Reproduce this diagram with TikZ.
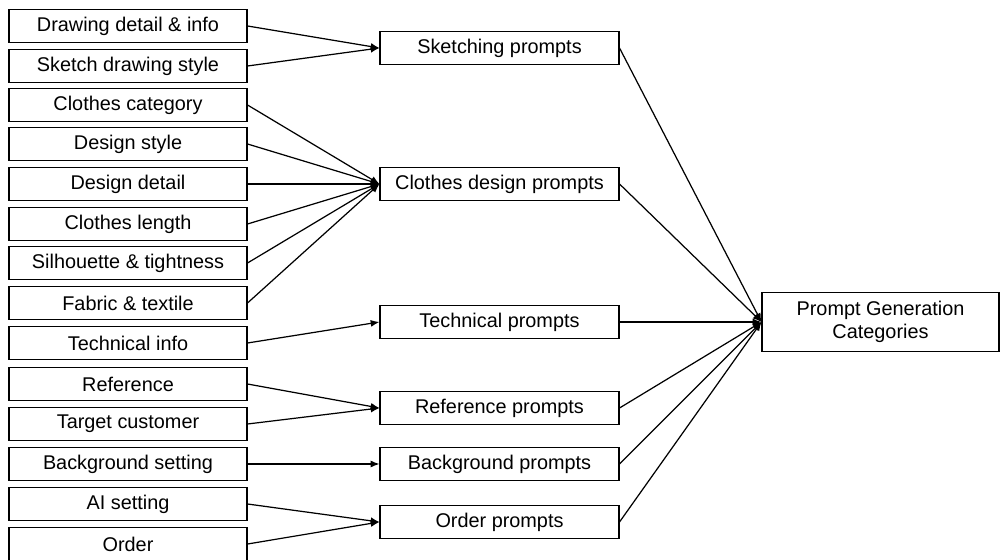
\documentclass[tikz,border=0pt]{standalone}
\usepackage{fontspec}
\setmainfont{Liberation Sans}
\usetikzlibrary{arrows.meta,
    positioning}

\tikzset{
    item/.style={draw, line width=0.6pt, minimum width=4.76cm, minimum height=0.66cm,
        inner sep=0pt, font=\fontsize{11.3}{13.5}\selectfont},
    group/.style={item, minimum width=4.78cm},
    goal/.style={item, minimum width=4.74cm, minimum height=1.18cm, align=center},
    link/.style={line width=0.7pt, -{Latex[length=5pt,width=4pt]}}
}

\begin{document}
\begin{tikzpicture}
                  \useasboundingbox (0,0) rectangle (20,11.2);
                  % inputs
                  \node[item] (drawdet) at (2.56,10.68) {Drawing detail \& info};
                  \node[item] (sketchsty) at (2.56,9.88) {Sketch drawing style};
                  \node[item] (clothcat) at (2.56,9.10) {Clothes category};
                  \node[item] (designsty) at (2.56,8.32) {Design style};
                  \node[item] (designdet) at (2.56,7.52) {Design detail};
                  \node[item] (clothlen) at (2.56,6.72) {Clothes length};
                  \node[item] (silhou) at (2.56,5.94) {Silhouette \& tightness};
                  \node[item] (fabric) at (2.56,5.14) {Fabric \& textile};
                  \node[item] (techinfo) at (2.56,4.34) {Technical info};
                  \node[item] (refer) at (2.56,3.52) {Reference};
                  \node[item] (target) at (2.56,2.72) {Target customer};
                  \node[item] (bgset) at (2.56,1.92) {Background setting};
                  \node[item] (aiset) at (2.56,1.12) {AI setting};
                  \node[item] (order) at (2.56,0.32) {Order};
                  % prompt groups
                  \node[group] (sketchp) at (9.99,10.24) {Sketching prompts};
                  \node[group] (clothp) at (9.99,7.52) {Clothes design prompts};
                  \node[group] (techp) at (9.99,4.76) {Technical prompts};
                  \node[group] (refp) at (9.99,3.04) {Reference prompts};
                  \node[group] (bgp) at (9.99,1.92) {Background prompts};
                  \node[group] (orderp) at (9.99,0.76) {Order prompts};
                  \node[goal] (cats) at (17.61,4.76) {Prompt Generation\\Categories};
                  % inputs to groups
                  \draw[link] (drawdet.east) -- (sketchp.west);
                  \draw[link] (sketchsty.east) -- (sketchp.west);
                  \foreach \n in {clothcat,designsty,designdet,clothlen,silhou,fabric}
                      \draw[link] (\n.east) -- (clothp.west);
                  \draw[link] (techinfo.east) -- (techp.west);
                  \draw[link] (refer.east) -- (refp.west);
                  \draw[link] (target.east) -- (refp.west);
                  \draw[link] (bgset.east) -- (bgp.west);
                  \draw[link] (aiset.east) -- (orderp.west);
                  \draw[link] (order.east) -- (orderp.west);
                  % groups to categories
                  \foreach \n in {sketchp,clothp,techp,refp,bgp,orderp}
                      \draw[link] (\n.east) -- (cats.west);
              \end{tikzpicture}
\end{document}
